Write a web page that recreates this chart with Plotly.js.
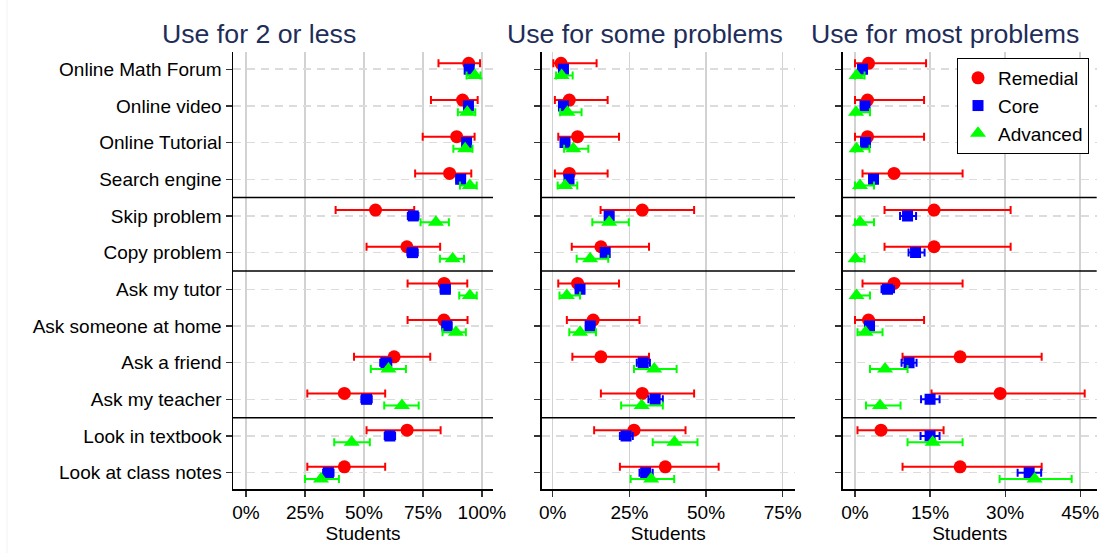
<!DOCTYPE html>
<html>
<head>
<meta charset="utf-8">
<script src="https://cdn.plot.ly/plotly-3.0.1.min.js"></script>
<style>html,body{margin:0;padding:0;background:#fff;}#chart{width:1099px;height:553px;}</style>
</head>
<body>
<div id="chart"></div>
<script>
// ---- categories ----
const categories = ["Online Math Forum","Online video","Online Tutorial","Search engine","Skip problem","Copy problem","Ask my tutor","Ask someone at home","Ask a friend","Ask my teacher","Look in textbook","Look at class notes"];
const groups = ["Remedial","Core","Advanced"];
const panelTitles = ["Use for 2 or less","Use for some problems","Use for most problems"];
const tickVals1 = [0,25,50,75,100];
const tickText1 = ["0%","25%","50%","75%","100%"];
const tickVals2 = [0,25,50,75];
const tickText2 = ["0%","25%","50%","75%"];
const tickVals3 = [0,15,30,45];
const tickText3 = ["0%","15%","30%","45%"];
const separatorsAfter = [4,6,10];

// ---- Panel 1: Use for 2 or less ----
const rem1   = [94.4,91.8,89.3,86.3,54.9,68.2,84.0,83.9,62.8,41.7,68.3,41.7];
const rem1Lo = [81.6,78.4,74.9,71.7,38.0,51.1,68.5,68.5,45.8,26.0,51.1,26.0];
const rem1Hi = [99.2,98.2,96.9,95.5,71.3,82.3,93.8,93.9,78.1,59.0,82.5,59.0];
const core1   = [94.6,94.3,93.5,91.0,70.9,70.6,84.5,85.2,59.3,51.1,61.0,34.9];
const core1Lo = [93.2,92.8,92.0,89.2,68.6,68.4,82.5,83.2,56.9,48.9,58.8,32.7];
const core1Hi = [95.9,95.6,94.9,92.6,73.1,72.8,86.4,87.1,61.6,53.3,63.2,37.1];
const adv1   = [97.0,93.8,92.9,94.9,80.5,87.6,94.9,89.0,60.4,66.1,44.8,31.8];
const adv1Lo = [93.5,89.8,87.9,90.7,74.0,82.2,90.4,83.3,52.9,58.6,37.4,25.0];
const adv1Hi = [99.4,97.2,96.0,97.8,86.0,92.4,97.8,93.2,67.8,73.2,52.5,39.4];

// ---- Panel 2: Use for some problems ----
const rem2   = [2.7,5.4,8.1,5.4,29.2,15.7,8.1,13.2,15.7,29.2,26.5,36.7];
const rem2Lo = [0.2,0.7,1.8,0.7,15.6,6.2,1.8,4.6,6.4,15.7,13.5,21.9];
const rem2Hi = [14.3,17.9,21.6,17.9,46.1,31.4,21.6,28.3,31.4,46.1,43.3,54.1];
const core2   = [3.5,3.5,4.0,5.3,18.4,17.1,8.9,12.2,29.5,33.4,23.9,30.3];
const core2Lo = [2.8,2.8,3.2,4.4,17.2,15.9,7.8,11.0,27.4,31.2,21.9,28.3];
const core2Hi = [4.3,4.3,4.9,6.3,19.7,18.4,10.1,13.5,31.7,35.9,26.1,32.6];
const adv2   = [2.9,4.8,6.7,4.0,18.4,12.2,4.6,8.9,33.1,29.0,39.7,32.1];
const adv2Lo = [1.1,2.4,3.7,1.6,12.9,7.8,2.2,5.4,26.5,22.3,32.6,25.4];
const adv2Hi = [6.5,9.4,11.6,8.0,24.8,18.1,8.9,14.1,40.4,35.9,47.2,39.6];

// ---- Panel 3: Use for most problems ----
const rem3   = [2.7,2.5,2.5,7.8,15.8,15.8,7.8,2.7,21.0,29.0,5.2,21.0];
const rem3Lo = [0,0,0,1.5,5.9,5.9,1.5,0,9.5,15.3,0.5,9.5];
const rem3Hi = [14.2,13.8,13.8,21.5,31.1,31.1,21.5,13.8,37.3,45.9,17.7,37.3];
const core3   = [1.5,2.0,2.1,3.7,10.5,12.1,6.5,2.9,10.8,15.0,15.0,34.8];
const core3Lo = [1.0,1.5,1.6,3.0,9.0,10.7,5.3,2.3,9.3,13.2,13.1,32.5];
const core3Hi = [2.1,2.6,2.7,4.5,12.2,13.9,7.8,3.6,12.3,16.9,16.9,37.2];
const adv3   = [0.3,0.2,0.3,1.0,1.0,0.1,0.3,2.1,6.0,5.0,15.5,35.9];
const adv3Lo = [0,0,0,0,0,0,0,0.5,3.0,2.2,10.5,28.9];
const adv3Hi = [1.9,3.0,2.9,3.8,3.8,1.9,3.0,5.5,10.5,9.1,21.5,43.3];

// ---- styles ----
const W = 1099, H = 553;
const colors = ["#ff0000","#0000ff","#00ff00"];
const symbols = ["circle","square","triangle-up"];
const sizes = [13,11,14];
const offsets = [-0.16, 0, 0.17];
const FONT = "Liberation Sans, Arial, Helvetica, sans-serif";

const panels = [
  {data:[[rem1,rem1Lo,rem1Hi],[core1,core1Lo,core1Hi],[adv1,adv1Lo,adv1Hi]], px:[233,493], range:[-5.5,104.7], tv:tickVals1, tt:tickText1, titleX:259},
  {data:[[rem2,rem2Lo,rem2Hi],[core2,core2Lo,core2Hi],[adv2,adv2Lo,adv2Hi]], px:[541.7,795], range:[-3.6,79.0], tv:tickVals2, tt:tickText2, titleX:645},
  {data:[[rem3,rem3Lo,rem3Hi],[core3,core3Lo,core3Hi],[adv3,adv3Lo,adv3Hi]], px:[842.7,1096.7], range:[-2.46,48.3], tv:tickVals3, tt:tickText3, titleX:945}
];

const traces = [];
const layout = {
  width: W, height: H,
  margin: {l:0, r:0, t:0, b:0},
  paper_bgcolor: "#fff", plot_bgcolor: "#fff",
  font: {family: FONT, size: 19, color: "#000"},
  showlegend: true,
  legend: {
    x: 957/W, y: (H-58)/H, xanchor: "left", yanchor: "top",
    bgcolor: "#fff", bordercolor: "#000", borderwidth: 1,
    font: {family: FONT, size: 19, color: "#000"},
    itemsizing: "trace", tracegroupgap: 0
  },
  shapes: [], annotations: []
};

const yDomain = [(H-489)/H, (H-52)/H];
const yRange = [12.445, 0.53];
const rowIdx = categories.map((c,i)=>i+1);

panels.forEach((p, pi) => {
  const n = pi === 0 ? "" : String(pi+1);
  const xa = "x" + n, ya = "y" + n;
  p.data.forEach((g, gi) => {
    const [v, lo, hi] = g;
    traces.push({
      type: "scatter", mode: "markers",
      name: groups[gi], showlegend: pi === 0,
      x: v, y: rowIdx.map(r => r + offsets[gi]),
      xaxis: xa, yaxis: ya,
      marker: {color: colors[gi], symbol: symbols[gi], size: sizes[gi], line: {width: 0}},
      error_x: {type: "data", symmetric: false,
        array: v.map((val,i)=>hi[i]-val), arrayminus: v.map((val,i)=>val-lo[i]),
        color: colors[gi], thickness: 2, width: 4},
      hoverinfo: "x+name"
    });
  });
  layout["xaxis" + n] = {
    domain: [p.px[0]/W, p.px[1]/W], range: p.range, anchor: ya,
    tickmode: "array", tickvals: p.tv, ticktext: p.tt,
    showgrid: true, gridcolor: "#d2d2d2", gridwidth: 1.5, zeroline: false,
    showline: true, linecolor: "#000", linewidth: 1.5,
    ticks: "outside", ticklen: 6, tickwidth: 1.2, tickcolor: "#333",
    tickfont: {family: FONT, size: 19, color: "#000"},
    ticklabeloverflow: "allow",
    title: {text: "Students", font: {family: FONT, size: 19, color: "#000"}, standoff: 0},
    automargin: false, fixedrange: true
  };
  layout["yaxis" + n] = {
    domain: yDomain, range: yRange, anchor: xa,
    tickmode: "array", tickvals: rowIdx, ticktext: categories,
    showticklabels: pi === 0,
    showgrid: true, gridcolor: "#dcdcdc", gridwidth: 1.5, griddash: "8px,6px", zeroline: false,
    showline: true, linecolor: "#000", linewidth: 1.5,
    ticks: "outside", ticklen: 6, tickwidth: 1.2, tickcolor: "#333",
    tickfont: {family: FONT, size: 19, color: "#000"},
    automargin: false, fixedrange: true
  };
  separatorsAfter.forEach(s => {
    layout.shapes.push({type: "line", xref: xa + " domain", yref: ya,
      x0: 0, x1: 1, y0: s + 0.5, y1: s + 0.5, line: {color: "#000", width: 1.5}});
  });
  layout.annotations.push({text: panelTitles[pi], xref: "paper", yref: "paper",
    x: p.titleX/W, y: (H-34)/H, xanchor: "center", yanchor: "middle", showarrow: false,
    font: {family: FONT, size: 26.7, color: "#1e2d5a"}});
});

layout.shapes.push({type:"line", xref:"paper", yref:"paper", x0:7/W, x1:7/W, y0:0, y1:1,
  line:{color:"#eef2f5", width:1}});

Plotly.newPlot("chart", traces, layout, {staticPlot: true, displayModeBar: false});
</script>
</body>
</html>
